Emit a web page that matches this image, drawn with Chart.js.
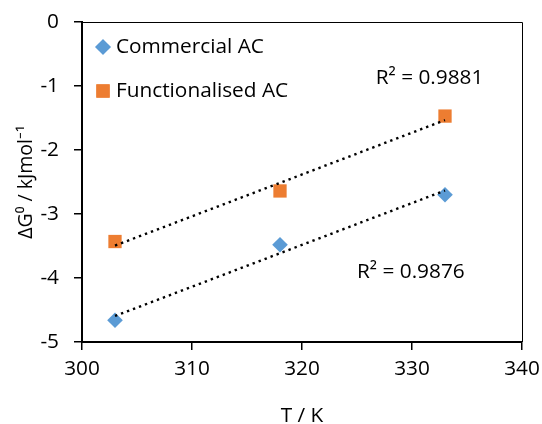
<!DOCTYPE html>
<html><head><meta charset="utf-8">
<script src="https://cdn.jsdelivr.net/npm/chart.js@4/dist/chart.umd.min.js"></script>
<style>html,body{margin:0;padding:0;background:#fff}</style>
</head><body>
<canvas id="c" width="542" height="424"></canvas>
<script>
// ---- data ----
const temperatures = [303, 318, 333];
const commercialAC = [-4.66, -3.48, -2.70];
const functionalisedAC = [-3.43, -2.64, -1.47];
const seriesNames = ['Commercial AC', 'Functionalised AC'];
const r2Texts = ['R² = 0.9876', 'R² = 0.9881'];
const xTickValues = [300, 310, 320, 330, 340];
const yTickValues = [-5, -4, -3, -2, -1, 0];
const xAxisTitle = 'T / K';
const yAxisTitle = 'ΔG⁰ / kJmol⁻¹';

// ---- helpers ----
function pts(xs, ys) { return xs.map((x, i) => ({x: x, y: ys[i]})); }
function linFit(xs, ys) {
  const n = xs.length;
  const mx = xs.reduce((a, b) => a + b, 0) / n;
  const my = ys.reduce((a, b) => a + b, 0) / n;
  let sxy = 0, sxx = 0;
  for (let i = 0; i < n; i++) { sxy += (xs[i] - mx) * (ys[i] - my); sxx += (xs[i] - mx) ** 2; }
  const m = sxy / sxx, b = my - m * mx;
  const x0 = Math.min(...xs), x1 = Math.max(...xs);
  return [{x: x0, y: m * x0 + b}, {x: x1, y: m * x1 + b}];
}

const FONT = "'Open Sans', sans-serif";
const FS = 20.8;
const BLUE = '#5B9BD5', ORANGE = '#ED7D31';

const trendStyle = {
  showLine: true, borderColor: '#000', borderWidth: 2.4, borderDash: [2.4, 4],
  borderCapStyle: 'butt', pointRadius: 0, fill: false, order: 0
};

// label anchors (data coordinates) for R² texts
const r2Anchors = [{x: 325.0, y: -3.91}, {x: 326.7, y: -0.87}];

const boxPlugin = {
  id: 'box',
  afterDatasetsDraw(chart) {
    const {ctx, chartArea: a} = chart;
    ctx.save();
    ctx.strokeStyle = '#000';
    ctx.lineWidth = 1;
    ctx.beginPath();
    ctx.moveTo(a.left, a.top + 0.5);
    ctx.lineTo(Math.round(a.right) + 0.5, a.top + 0.5);
    ctx.lineTo(Math.round(a.right) + 0.5, a.bottom);
    ctx.stroke();
    ctx.restore();
  }
};

const labelPlugin = {
  id: 'labels',
  afterDraw(chart) {
    const {ctx, chartArea: a, scales} = chart;
    ctx.save();
    ctx.font = FS + 'px ' + FONT;
    ctx.fillStyle = '#000';
    ctx.textBaseline = 'middle';
    ctx.textAlign = 'left';
    r2Texts.forEach((t, i) => {
      ctx.fillText(t, scales.x.getPixelForValue(r2Anchors[i].x), scales.y.getPixelForValue(r2Anchors[i].y));
    });
    const rows = [25, 69];
    [0, 1].forEach(i => {
      const ds = chart.data.datasets[i];
      const cy = a.top + rows[i];
      const cx = a.left + 21;
      ctx.fillStyle = ds.backgroundColor;
      Chart.helpers.drawPoint(ctx, {pointStyle: ds.pointStyle, radius: ds.pointRadius, rotation: 0, borderWidth: 0}, cx, cy);
      ctx.fill();
      ctx.fillStyle = '#000';
      ctx.fillText(ds.label, a.left + 34, cy);
    });
    ctx.restore();
  }
};

function zeroPad(s) { s.paddingLeft = 0; s.paddingRight = 0; s.paddingTop = 0; s.paddingBottom = 0; }

new Chart(document.getElementById('c'), {
  type: 'scatter',
  data: {
    datasets: [
      {label: seriesNames[0], data: pts(temperatures, commercialAC), pointStyle: 'rectRot',
       pointRadius: 7.8, pointHoverRadius: 7.8, backgroundColor: BLUE, borderWidth: 0, order: 1},
      {label: seriesNames[1], data: pts(temperatures, functionalisedAC), pointStyle: 'rect',
       pointRadius: 9.4, pointHoverRadius: 9.4, backgroundColor: ORANGE, borderWidth: 0, order: 1},
      Object.assign({label: 'trend1', data: linFit(temperatures, commercialAC)}, trendStyle),
      Object.assign({label: 'trend2', data: linFit(temperatures, functionalisedAC)}, trendStyle)
    ]
  },
  options: {
    responsive: false,
    animation: false,
    devicePixelRatio: 1,
    layout: {padding: {top: 22, right: 20, left: 0, bottom: 0}},
    plugins: {legend: {display: false}, tooltip: {enabled: false}},
    scales: {
      x: {
        type: 'linear', min: 300, max: 340,
        afterBuildTicks: s => { s.ticks = xTickValues.map(v => ({value: v})); },
        afterFit: s => { s.height = 82; zeroPad(s); },
        ticks: {color: '#000', font: {family: FONT, size: FS}, padding: 7},
        border: {display: true, color: '#000', width: 2},
        grid: {drawOnChartArea: false, drawTicks: true, tickLength: 8, color: '#000', lineWidth: 1.5},
        title: {display: true, text: xAxisTitle, color: '#000', font: {family: FONT, size: FS, lineHeight: 1}, padding: {top: 0, bottom: -2}}
      },
      y: {
        type: 'linear', min: -5, max: 0,
        afterBuildTicks: s => { s.ticks = yTickValues.map(v => ({value: v})); },
        afterFit: s => { s.width = 82; zeroPad(s); },
        ticks: {color: '#000', font: {family: FONT, size: FS}, padding: 15},
        border: {display: true, color: '#000', width: 2},
        grid: {drawOnChartArea: false, drawTicks: true, tickLength: 8, color: '#000', lineWidth: 1.5},
        title: {display: true, text: yAxisTitle, color: '#000', font: {family: FONT, size: 19.5, lineHeight: 1.2}, padding: {top: 15, bottom: 0}}
      }
    }
  },
  plugins: [boxPlugin, labelPlugin]
});
</script>
</body></html>
